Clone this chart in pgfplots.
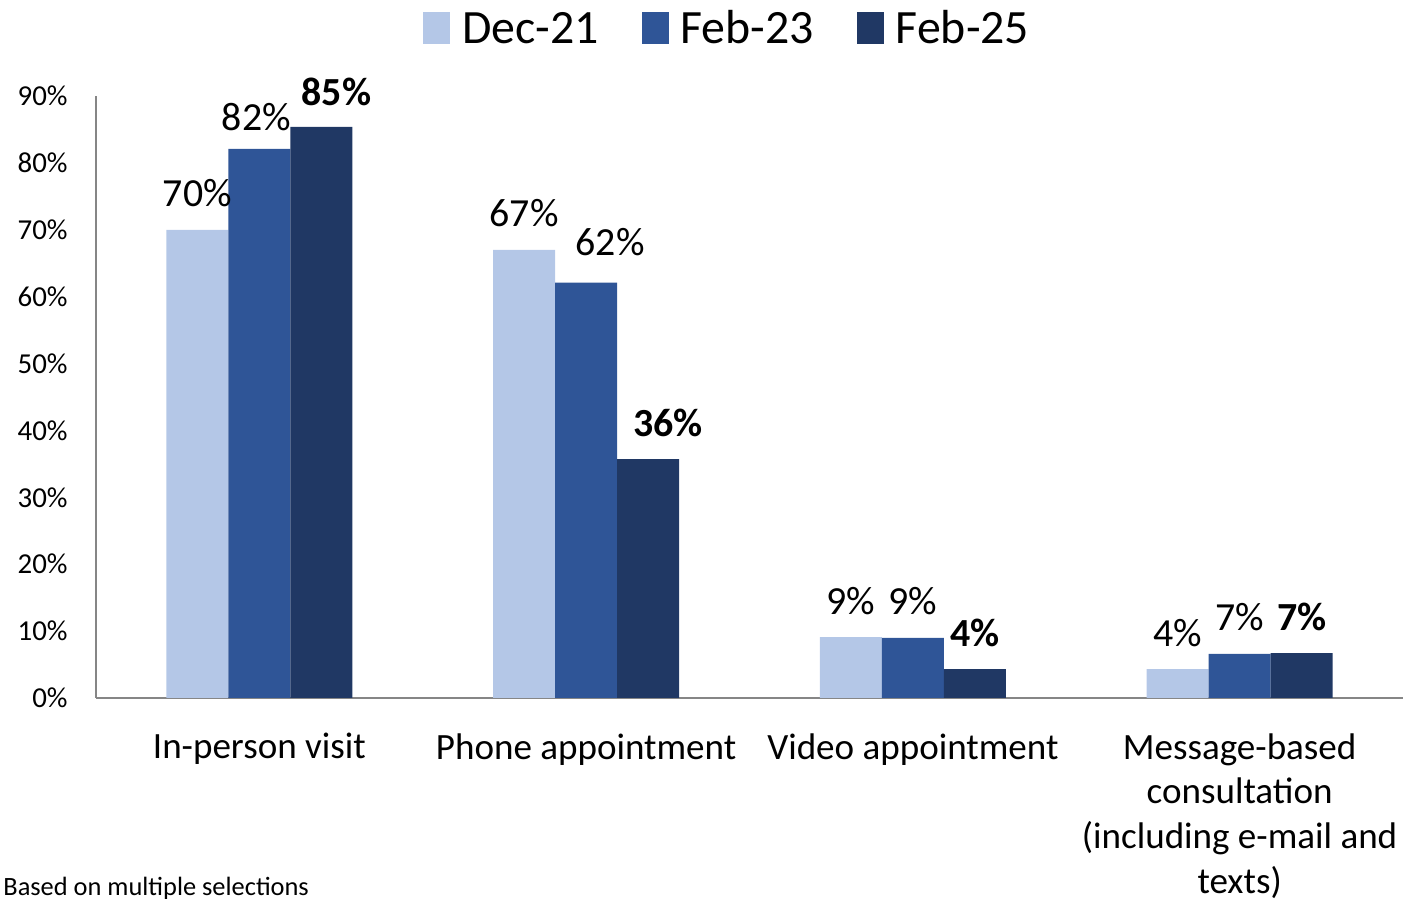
\documentclass[border=0pt]{standalone}
\usepackage{pgfplots}
\usepackage{pgfplotstable}
\pgfplotsset{compat=1.18}
\usepackage{fontspec}
\setmainfont{Carlito}
\definecolor{cA}{HTML}{B4C7E7}
\definecolor{cB}{HTML}{2F5597}
\definecolor{cC}{HTML}{203864}
\definecolor{axisgray}{HTML}{868686}
\pgfplotsset{
  sqlegend/.style={legend image code/.code={\path (0bp,-8bp) rectangle (13.5bp,8bp); \fill[##1] (0bp,-7.5bp) rectangle (13.5bp,6bp);}},
  lab/.style={
    visualization depends on={\thisrow{dx} \as \dx},
    visualization depends on={\thisrow{dy} \as \dy},
    every node near coord/.append style={font=\fontsize{20}{24}\selectfont#1, text=black, anchor=base, yshift=11.5bp, xshift=\dx*1bp, yshift=\dy*1bp}},
}
\pgfplotstableread{
x y dx dy
0 70 0 0
1 67 0 0
2 9.1 0 0
3 4.3 0 0
}\tA
\pgfplotstableread{
x y dx dy
0 82.1 -1.5 -2.5
1 62.1 12 2
2 9 0 0
3 6.6 0 0
}\tB
\pgfplotstableread{
x y dx dy
0 85.4 7.5 -1
1 35.7 10 0
2 4.3 0 0
3 6.7 0 0
}\tC
\begin{document}
\begin{tikzpicture}[x=1bp,y=1bp]
\useasboundingbox (0,0) rectangle (701.5,449.5);
\clip (0,0) rectangle (701.5,449.5);
\begin{axis}[
  at={(48bp,100.5bp)}, anchor=south west,
  width=653.5bp, height=301bp, scale only axis,
  xmin=-0.5, xmax=3.5, ymin=0, ymax=90,
  ybar=0pt, bar width=31bp,
  axis x line*=bottom, axis y line*=left,
  axis line style={axisgray, line width=0.75bp, -},
  ytick={0,10,...,90}, xtick={0,1,2,3},
  xticklabels={In-person visit, Phone appointment, Video appointment, {Message-based\\consultation\\(including e-mail and\\texts)}},
  major tick length=0pt,
  /pgf/number format/assume math mode=true,
  yticklabel={\pgfmathprintnumber{\tick}\%},
  yticklabel style={font=\fontsize{14.5}{17}\selectfont, anchor=east, inner sep=0pt, xshift=-14bp},
  xticklabel style={font=\fontsize{18.6}{22.5}\selectfont, align=center, anchor=north, inner sep=0pt, yshift=-17.5bp},
  clip=false,
  nodes near coords={\pgfmathprintnumber[fixed,precision=0]{\pgfplotspointmeta}\%},
  legend style={at={(axis description cs:0.2502,1.1123)}, anchor=west, draw=none, fill=none,
    inner sep=0pt, outer sep=0pt, font=\fontsize{24}{28}\selectfont, legend columns=3,
    nodes={inner sep=0pt, text height=15bp, text depth=0bp},
    /tikz/every odd column/.append style={column sep=6bp},
    /tikz/every even column/.append style={column sep=21.5bp}},
  legend cell align=left,
]
\addplot[fill=cA, draw=none, sqlegend, lab={}] table[x=x,y=y] {\tA};
\addplot[fill=cB, draw=none, sqlegend, lab={}] table[x=x,y=y] {\tB};
\addplot[fill=cC, draw=none, sqlegend, lab={\bfseries}] table[x=x,y=y] {\tC};
\legend{Dec-21,Feb-23,Feb-25}
\end{axis}
\node[anchor=base west, inner sep=0pt, font=\fontsize{13.25}{16}\selectfont] at (1.5,1.5) {Based on multiple selections};
\end{tikzpicture}
\end{document}
